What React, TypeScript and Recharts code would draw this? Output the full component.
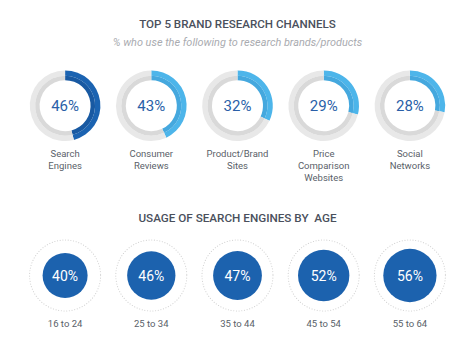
import React from 'react';
import { PieChart, Pie, Cell, ScatterChart, Scatter, XAxis, YAxis, ZAxis } from 'recharts';

const channelNames = ['Search\nEngines', 'Consumer\nReviews', 'Product/Brand\nSites', 'Price\nComparison\nWebsites', 'Social\nNetworks'];
const channelShares = [46, 43, 32, 29, 28];
const channelOuterColors = ['#1b63b1', '#4db5ea', '#4db5ea', '#4db5ea', '#4db5ea'];
const channelInnerColors = ['#1859a2', '#45a8de', '#45a8de', '#45a8de', '#45a8de'];

const ageGroups = ['16 to 24', '25 to 34', '35 to 44', '45 to 54', '55 to 64'];
const ageShares = [40, 46, 47, 52, 56];

const W = 475;
const H = 340;
const SIDE = 22;
const BAND = (W - 2 * SIDE) / channelShares.length;
const FONT = 'Roboto, "Open Sans", sans-serif';

const ageData = ageGroups.map((name, i) => ({ name, value: ageShares[i], y: 1 }));

const AgeBubble = (props: any) => {
  const { cx, cy, width, payload } = props;
  if (cx == null || cy == null) return null;
  const r = width / 2;
  return (
    <g>
      <circle cx={cx} cy={cy} r={35.5} fill="none" stroke="#d2d2d2" strokeWidth={1.1} strokeDasharray="0.1 2.6" strokeLinecap="round" />
      <circle cx={cx} cy={cy} r={r} fill="#1c62ae" />
      <text x={cx} y={cy} textAnchor="middle" dominantBaseline="central" fill="#ffffff" fontSize={14} fontFamily={FONT} fontWeight={400}>
        {payload.value}%
      </text>
    </g>
  );
};

const centerLabel = (p: any) => {
  if (p.index !== 0) return null;
  return (
    <text x={p.cx} y={p.cy} textAnchor="middle" dominantBaseline="central" fill="#2a5fa8" fontSize={15} fontFamily={FONT} fontWeight={400}>
      {p.value}%
    </text>
  );
};

export default function App() {
  return (
    <div style={{ position: 'absolute', left: 0, top: 0, width: W, height: H, background: '#fff', fontFamily: FONT }}>
      <div style={{ position: 'absolute', left: 0, top: 17, width: W, textAlign: 'center', fontSize: 11.6, lineHeight: '14px', color: '#4a505c', fontWeight: 500, whiteSpace: 'pre' }}>
        TOP 5 BRAND RESEARCH CHANNELS
      </div>
      <div style={{ position: 'absolute', left: 0, top: 36, width: W, textAlign: 'center', fontSize: 10.9, lineHeight: '14px', color: '#a9abb0', fontStyle: 'italic', whiteSpace: 'pre' }}>
        % who use the following to research brands/products
      </div>
      <div style={{ position: 'absolute', left: 0, top: 211, width: W, textAlign: 'center', fontSize: 11.7, lineHeight: '14px', color: '#4a505c', fontWeight: 500, whiteSpace: 'pre' }}>
        {'USAGE OF SEARCH ENGINES BY  AGE'}
      </div>

      <div style={{ position: 'absolute', left: 0, top: 0 }}>
        <PieChart width={W} height={200} margin={{ top: 0, right: 0, bottom: 0, left: 0 }}>
          {channelShares.flatMap((v, i) => {
            const cx = SIDE + BAND * (i + 0.5);
            const data = [{ name: 'share', value: v }, { name: 'rest', value: 100 - v }];
            return [
              <Pie key={`o${i}`} data={data} dataKey="value" cx={cx} cy={105.7} innerRadius={30} outerRadius={35.3} startAngle={90} endAngle={-270} stroke="none" isAnimationActive={false}>
                <Cell fill={channelOuterColors[i]} />
                <Cell fill="#e8e8e8" />
              </Pie>,
              <Pie key={`i${i}`} data={data} dataKey="value" cx={cx} cy={105.7} innerRadius={25.5} outerRadius={30} startAngle={90} endAngle={-270} stroke="none" isAnimationActive={false} label={centerLabel} labelLine={false}>
                <Cell fill={channelInnerColors[i]} />
                <Cell fill="#d9d9d9" />
              </Pie>,
            ];
          })}
        </PieChart>
      </div>

      {channelNames.map((n, i) => {
        const cx = SIDE + BAND * (i + 0.5);
        return (
          <div key={n} style={{ position: 'absolute', left: cx - 45, top: 148, width: 90, textAlign: 'center', fontSize: 9.5, lineHeight: '12px', color: '#5a5f69', whiteSpace: 'pre-line' }}>
            {n}
          </div>
        );
      })}

      <div style={{ position: 'absolute', left: 0, top: 0 }}>
        <ScatterChart width={W} height={H} margin={{ top: 240, right: SIDE, bottom: 0, left: SIDE }}>
          <XAxis dataKey="name" type="category" allowDuplicatedCategory={false} axisLine={false} tickLine={false} tickSize={0} tickMargin={9} height={29} interval={0} tick={{ fill: '#5a5f69', fontSize: 9.5, fontFamily: FONT }} />
          <YAxis dataKey="y" type="number" domain={[0, 2]} hide />
          <ZAxis dataKey="value" type="number" domain={[0, 100]} range={[0, 3980]} />
          <Scatter data={ageData} shape={AgeBubble} isAnimationActive={false} />
        </ScatterChart>
      </div>
    </div>
  );
}
